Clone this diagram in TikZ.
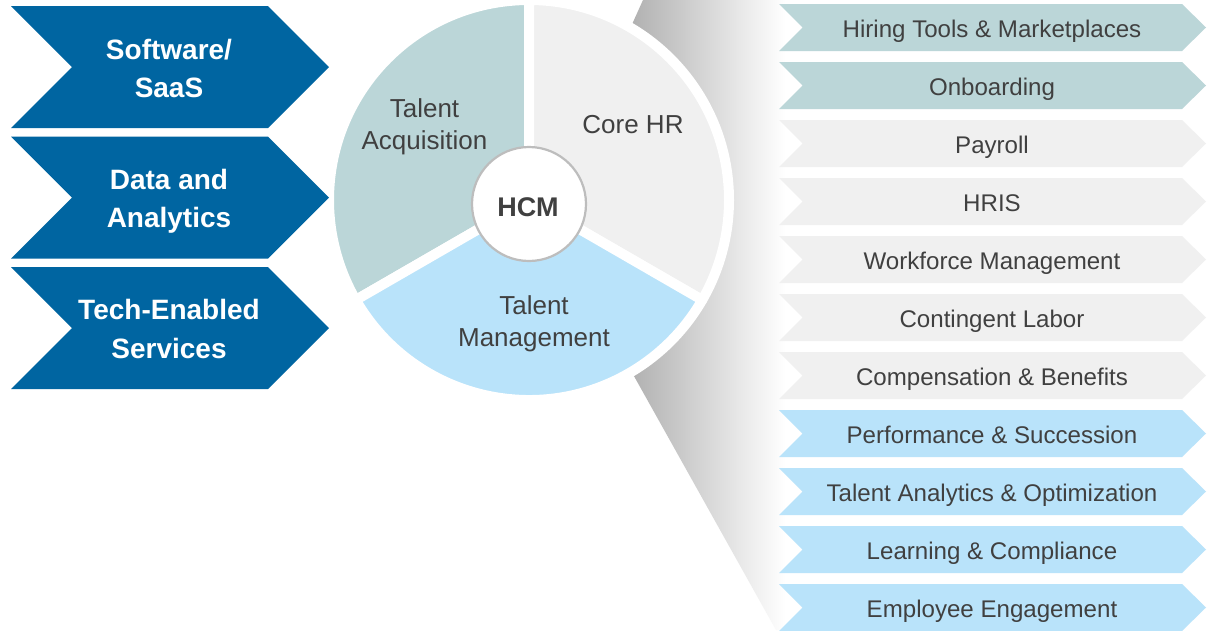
\documentclass[tikz,border=0pt]{standalone}
\usepackage{fontspec}
\setmainfont{Liberation Sans}
\definecolor{navy}{HTML}{0065A1}
\definecolor{acq}{HTML}{BBD6D8}
\definecolor{core}{HTML}{F0F0F0}
\definecolor{mgmt}{HTML}{B9E3FA}
\definecolor{txt}{HTML}{404040}
\definecolor{ringc}{HTML}{BDBDBD}
\newcommand\lbtop[1]{\rule{0pt}{#1}}
\newcommand\lbbot[1]{\rule[-#1]{0pt}{#1}}
\tikzset{
  lefttxt/.style={text=white, font=\bfseries\fontsize{28}{38.5}\selectfont, align=center, inner sep=0pt},
  pietxt/.style={text=txt, font=\fontsize{26}{32}\selectfont, align=center, inner sep=0pt},
  listtxt/.style={text=txt, font=\fontsize{24.1}{28}\selectfont, inner sep=0pt, anchor=base},
  hub/.style={circle, fill=white, draw=ringc, line width=2.2pt, minimum size=114pt, inner sep=0pt,
              text=txt, font=\bfseries\fontsize{27}{32}\selectfont},
  sector/.style={draw=white, line width=10pt, line join=round},
}
\begin{document}
\begin{tikzpicture}[x=1pt,y=-1pt]
\useasboundingbox (0,0) rectangle (1211,630);
\fill[white] (0,0) rectangle (1211,630);

% zoom shadow behind the pie
\shade[left color=black!32, middle color=black!10, right color=white]
  (643,0) -- (625,40) -- (625,360) -- (776,630) -- (785,630) -- (785,0) -- cycle;

% pie
\coordinate (pc) at (529,200);
\fill[white] (pc) circle[radius=204];
\path[sector, fill=acq]  (pc) -- ++(-90:200) arc[start angle=-90, end angle=-210, radius=200] -- cycle;
\path[sector, fill=core] (pc) -- ++(-90:200) arc[start angle=-90, end angle=30, radius=200] -- cycle;
\path[sector, fill=mgmt] (pc) -- ++(150:200) arc[start angle=150, end angle=30, radius=200] -- cycle;

\node[pietxt] (ta) at (424.5,126.3) {\lbtop{20pt}Talent\\Acquisition\lbbot{6pt}};
\node[pietxt, anchor=base] (ch) at (633,133.3) {Core HR};
\node[pietxt] (tm) at (534,323.3) {\lbtop{20pt}Talent\\Management\lbbot{6pt}};
\node[hub] (hcm) at (529,204) {};
\node[text=txt, font=\bfseries\fontsize{27}{32}\selectfont, inner sep=0pt, anchor=base] (hcmtxt) at (528,216) {HCM};

% left chevrons
\foreach \t in {6,136.5,267}{
  \fill[navy] (11,\t) -- (268,\t) -- (329,{\t+61}) -- (268,{\t+122}) -- (11,{\t+122}) -- (72,{\t+61}) -- cycle;
}
\node[lefttxt] (sw) at (169,70.8) {\lbtop{22pt}Software/\\SaaS\lbbot{6.5pt}};
\node[lefttxt] (da) at (169,200.8) {\lbtop{22pt}Data and\\Analytics\lbbot{6.5pt}};
\node[lefttxt] (te) at (169,331) {\lbtop{22pt}Tech-Enabled\\Services\lbbot{6.5pt}};

% right list
\foreach \s/\c [count=\k from 0] in {Hiring Tools \& Marketplaces/acq, Onboarding/acq, Payroll/core, HRIS/core,
   Workforce Management/core, Contingent Labor/core, Compensation \& Benefits/core,
   Performance \& Succession/mgmt, Talent Analytics \& Optimization/mgmt,
   Learning \& Compliance/mgmt, Employee Engagement/mgmt}{
  \pgfmathsetmacro\t{4+58*\k}
  \fill[\c] (779,\t) -- (1182,\t) -- (1206,{\t+23.5}) -- (1182,{\t+47}) -- (779,{\t+47}) -- (802.5,{\t+23.5}) -- cycle;
  \node[listtxt] (item\k) at (992,{\t+33.2}) {\s};
}
\end{tikzpicture}
\end{document}
